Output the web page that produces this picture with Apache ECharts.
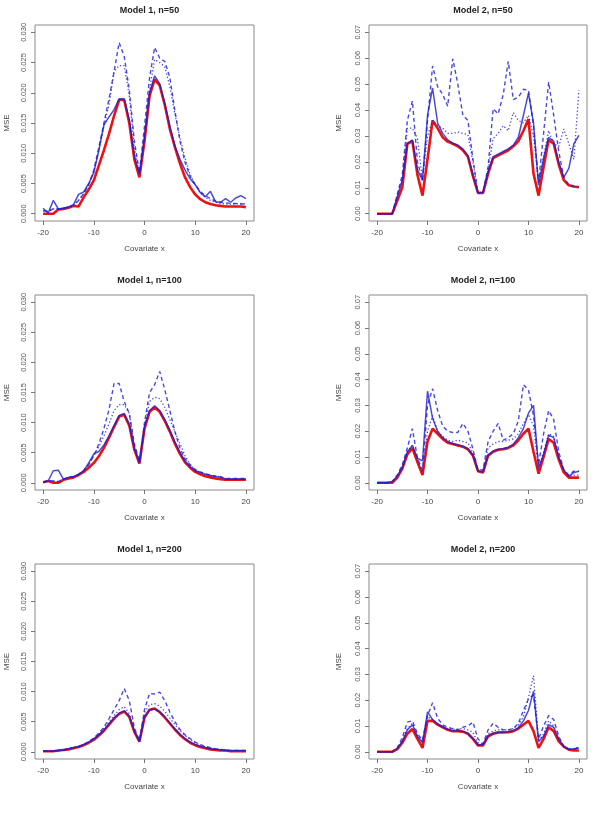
<!DOCTYPE html>
<html>
<head>
<meta charset="utf-8">
<script src="https://cdn.jsdelivr.net/npm/echarts@6/dist/echarts.min.js"></script>
<style>
  html, body { margin: 0; padding: 0; background: #fff; }
  #main { width: 596px; height: 814px; }
</style>
</head>
<body>
<div id="main"></div>
<script>
// covariate grid
var xs = [-20,-19,-18,-17,-16,-15,-14,-13,-12,-11,
          -10,-9,-8,-7,-6,-5,-4,-3,-2,-1,
          0,1,2,3,4,5,6,7,8,9,
          10,11,12,13,14,15,16,17,18,19,20];

var xTicks = [-20, -10, 0, 10, 20];
var yTicksM1 = [0, 0.005, 0.010, 0.015, 0.020, 0.025, 0.030];
var yTicksM2 = [0, 0.01, 0.02, 0.03, 0.04, 0.05, 0.06, 0.07];

// ---- Model 1, n=50
var m1n50_red = [0,0,0,0.0007,0.0008,0.001,0.0013,0.0012,0.0027,0.004,
  0.0055,0.008,0.0105,0.0132,0.0162,0.0188,0.0188,0.015,0.009,0.006,
  0.012,0.0195,0.0222,0.0212,0.018,0.014,0.011,0.0083,0.006,0.0044,
  0.0032,0.0024,0.0019,0.0016,0.0014,0.0013,0.0012,0.0012,0.0012,0.0012,0.0011];
var m1n50_solid = [0.0009,0.0001,0.0022,0.0008,0.0009,0.0011,0.0015,0.0032,0.0036,0.005,
  0.0068,0.0105,0.0147,0.016,0.0172,0.019,0.019,0.0155,0.0095,0.0065,
  0.0125,0.02,0.0228,0.0215,0.0182,0.0145,0.0112,0.009,0.0072,0.0058,
  0.0048,0.0035,0.0028,0.0037,0.002,0.0019,0.0025,0.0019,0.0026,0.003,0.0025];
var m1n50_dash = [0.0005,0.0004,0.0008,0.0008,0.0009,0.0011,0.0014,0.0022,0.0033,0.0048,
  0.0072,0.011,0.015,0.019,0.0235,0.0283,0.026,0.0205,0.012,0.0068,
  0.0145,0.0225,0.0275,0.0257,0.0252,0.0225,0.017,0.012,0.0085,0.0062,
  0.0048,0.0037,0.003,0.0025,0.0021,0.0019,0.0018,0.0017,0.0017,0.0016,0.0016];
var m1n50_dot = [0.0005,0.0004,0.0008,0.0008,0.0009,0.0011,0.0014,0.0022,0.0033,0.0048,
  0.007,0.0105,0.0145,0.018,0.0235,0.0245,0.0245,0.0195,0.011,0.0066,
  0.013,0.0205,0.0255,0.025,0.0243,0.021,0.0165,0.0125,0.0092,0.0065,
  0.0048,0.0035,0.0027,0.0022,0.0019,0.0017,0.0016,0.0016,0.0016,0.0017,0.0016];

// ---- Model 2, n=50
var m2n50_red = [0,0,0,0,0.005,0.0102,0.027,0.028,0.015,0.007,
  0.021,0.036,0.033,0.0295,0.0278,0.027,0.026,0.0245,0.022,0.0145,
  0.008,0.008,0.0155,0.0215,0.0225,0.0235,0.0245,0.026,0.028,0.032,
  0.0365,0.0155,0.007,0.018,0.0285,0.027,0.019,0.013,0.011,0.0105,0.0102];
var m2n50_solid = [0,0,0,0,0.0065,0.013,0.027,0.0285,0.017,0.0128,
  0.038,0.0485,0.035,0.031,0.0285,0.0272,0.0265,0.025,0.0225,0.015,
  0.008,0.0082,0.016,0.022,0.023,0.024,0.025,0.0265,0.0295,0.038,
  0.0465,0.035,0.011,0.0215,0.0295,0.028,0.02,0.014,0.0175,0.027,0.0302];
var m2n50_dash = [0,0,0,0,0.0075,0.015,0.036,0.0435,0.02,0.013,
  0.036,0.057,0.049,0.046,0.0415,0.0598,0.05,0.038,0.036,0.021,
  0.008,0.0085,0.018,0.0405,0.0385,0.046,0.0588,0.044,0.045,0.048,
  0.0476,0.034,0.012,0.031,0.0508,0.038,0.024,0.014,0.011,0.0105,0.0102];
var m2n50_dot = [0,0,0,0,0.007,0.013,0.033,0.033,0.029,0.013,
  0.03,0.036,0.034,0.033,0.031,0.031,0.0315,0.031,0.0305,0.02,
  0.008,0.0085,0.017,0.029,0.031,0.034,0.032,0.039,0.036,0.035,
  0.038,0.03,0.012,0.022,0.032,0.027,0.026,0.0327,0.027,0.021,0.0476];

// ---- Model 1, n=100
var m1n100_red = [0.0001,0.0003,0,0,0.0005,0.0007,0.0009,0.0013,0.0018,0.0025,
  0.0033,0.0044,0.0058,0.0075,0.0093,0.011,0.0113,0.0095,0.0055,0.0032,
  0.009,0.0118,0.0125,0.0118,0.0103,0.0085,0.0065,0.0048,0.0034,0.0025,
  0.0018,0.0014,0.0011,0.0009,0.0007,0.0006,0.0005,0.0005,0.0005,0.0005,0.0005];
var m1n100_solid = [0.0001,0.0003,0.002,0.0021,0.0006,0.0009,0.001,0.0014,0.002,0.0033,
  0.0048,0.0052,0.0063,0.0078,0.0095,0.0112,0.0115,0.0097,0.0057,0.0033,
  0.0092,0.012,0.0128,0.012,0.0105,0.0087,0.0068,0.005,0.0036,0.0027,
  0.002,0.0017,0.0014,0.0012,0.001,0.0009,0.0006,0.0006,0.0006,0.0006,0.0006];
var m1n100_dash = [0.0001,0.0003,0.0003,0.0002,0.0006,0.0009,0.001,0.0014,0.002,0.003,
  0.0045,0.0065,0.009,0.0122,0.0165,0.0165,0.0135,0.0115,0.0065,0.0035,
  0.01,0.015,0.0163,0.0185,0.0155,0.012,0.0085,0.0057,0.004,0.003,
  0.0022,0.0018,0.0015,0.0013,0.0011,0.001,0.0007,0.0007,0.0007,0.0007,0.0007];
var m1n100_dot = [0.0001,0.0003,0.0003,0.0002,0.0006,0.0009,0.001,0.0014,0.002,0.003,
  0.0045,0.006,0.0078,0.0098,0.012,0.013,0.013,0.0115,0.006,0.0035,
  0.0095,0.0135,0.0142,0.014,0.0125,0.0105,0.0085,0.0065,0.0045,0.003,
  0.0022,0.0017,0.0014,0.0012,0.0011,0.001,0.0007,0.0007,0.0007,0.0007,0.0007];

// ---- Model 2, n=100
var m2n100_red = [0,0,0,0,0.002,0.0055,0.011,0.0135,0.008,0.003,
  0.016,0.021,0.019,0.017,0.0155,0.015,0.0145,0.014,0.013,0.0105,
  0.0045,0.004,0.0105,0.012,0.0128,0.013,0.0135,0.0145,0.0165,0.019,
  0.021,0.012,0.0035,0.01,0.017,0.0155,0.009,0.004,0.002,0.002,0.002];
var m2n100_solid = [0,0,0,0.0005,0.0025,0.006,0.012,0.0145,0.0095,0.0085,
  0.0355,0.025,0.02,0.0175,0.016,0.0152,0.0147,0.0142,0.0132,0.0108,
  0.0046,0.0042,0.0108,0.0123,0.013,0.0133,0.0138,0.015,0.0175,0.021,
  0.027,0.03,0.006,0.011,0.0185,0.0175,0.01,0.005,0.0025,0.004,0.0045];
var m2n100_dash = [0,0,0,0.0005,0.003,0.007,0.0135,0.021,0.0095,0.005,
  0.03,0.0365,0.028,0.022,0.02,0.0195,0.0195,0.023,0.02,0.013,
  0.005,0.005,0.016,0.02,0.023,0.0165,0.0175,0.019,0.024,0.038,
  0.036,0.026,0.007,0.019,0.028,0.0245,0.012,0.005,0.003,0.0045,0.0045];
var m2n100_dot = [0,0,0,0.0005,0.0025,0.006,0.012,0.0145,0.009,0.004,
  0.02,0.026,0.02,0.018,0.0165,0.016,0.0165,0.016,0.0155,0.0115,
  0.0045,0.0045,0.0135,0.015,0.016,0.016,0.0165,0.017,0.019,0.023,
  0.0265,0.022,0.005,0.012,0.019,0.018,0.01,0.005,0.0025,0.003,0.003];

// ---- Model 1, n=200
var m1n200_red = [0.0001,0.0001,0.0001,0.0002,0.0003,0.0004,0.0006,0.0008,0.0011,0.0015,
  0.002,0.0027,0.0035,0.0045,0.0055,0.0063,0.0067,0.0058,0.0033,0.0017,
  0.0057,0.007,0.0072,0.0066,0.0057,0.0047,0.0037,0.0028,0.0021,0.0015,
  0.0011,0.0008,0.0006,0.0004,0.0003,0.0002,0.0002,0.0001,0.0001,0.0001,0.0001];
var m1n200_solid = [0.0001,0.0001,0.0001,0.0002,0.0003,0.0005,0.0007,0.0009,0.0012,0.0016,
  0.0021,0.0028,0.0036,0.0046,0.0056,0.0064,0.0068,0.0059,0.0034,0.0017,
  0.0058,0.0069,0.0071,0.0066,0.0058,0.0048,0.0038,0.0029,0.0022,0.0016,
  0.0012,0.0009,0.0007,0.0005,0.0004,0.0003,0.0002,0.0002,0.0002,0.0002,0.0002];
var m1n200_dash = [0.0001,0.0001,0.0001,0.0002,0.0003,0.0005,0.0007,0.0009,0.0012,0.0017,
  0.0023,0.0031,0.0041,0.0055,0.007,0.0085,0.0105,0.0085,0.004,0.0018,
  0.007,0.0097,0.0096,0.0099,0.0085,0.0066,0.005,0.0037,0.0028,0.0022,
  0.0016,0.0012,0.0009,0.0007,0.0005,0.0004,0.0003,0.0002,0.0002,0.0002,0.0002];
var m1n200_dot = [0.0001,0.0001,0.0001,0.0002,0.0003,0.0005,0.0007,0.0009,0.0012,0.0016,
  0.0022,0.003,0.0039,0.005,0.006,0.007,0.0075,0.0063,0.0035,0.0018,
  0.0065,0.0078,0.008,0.0076,0.0067,0.0056,0.0045,0.0035,0.0027,0.002,
  0.0015,0.0011,0.0008,0.0006,0.0005,0.0004,0.0003,0.0002,0.0002,0.0002,0.0002];

// ---- Model 2, n=200
var m2n200_red = [0,0,0,0,0.001,0.0035,0.007,0.0088,0.005,0.0015,
  0.012,0.012,0.0105,0.0095,0.0085,0.008,0.008,0.0078,0.007,0.005,
  0.0025,0.0025,0.006,0.007,0.0075,0.0075,0.0076,0.008,0.009,0.0105,
  0.012,0.008,0.0015,0.005,0.0095,0.008,0.004,0.002,0.0008,0.0005,0.0005];
var m2n200_solid = [0,0,0,0,0.0012,0.004,0.0085,0.0105,0.006,0.0035,
  0.0155,0.0125,0.0108,0.0097,0.0087,0.0082,0.0081,0.0079,0.0072,0.0052,
  0.0027,0.0027,0.0062,0.0072,0.0076,0.0077,0.0078,0.0082,0.0093,0.012,
  0.016,0.0235,0.004,0.006,0.0105,0.0095,0.005,0.002,0.001,0.0012,0.0015];
var m2n200_dash = [0,0,0,0,0.0015,0.0055,0.0115,0.012,0.007,0.0045,
  0.014,0.019,0.013,0.0105,0.0095,0.009,0.0085,0.0095,0.01,0.0115,
  0.005,0.003,0.0085,0.011,0.0095,0.0085,0.0085,0.009,0.011,0.016,
  0.0205,0.022,0.005,0.01,0.014,0.0125,0.006,0.002,0.001,0.001,0.0015];
var m2n200_dot = [0,0,0,0,0.0013,0.0045,0.009,0.011,0.006,0.004,
  0.0135,0.0125,0.011,0.0095,0.009,0.0088,0.0088,0.009,0.0085,0.0075,
  0.0035,0.003,0.007,0.008,0.0085,0.0085,0.0085,0.009,0.0105,0.0135,
  0.021,0.0295,0.004,0.007,0.012,0.01,0.005,0.002,0.0008,0.001,0.002];

var panels = [
  { title: 'Model 1, n=50',  m: 1, red: m1n50_red,  solid: m1n50_solid,  dash: m1n50_dash,  dot: m1n50_dot },
  { title: 'Model 2, n=50',  m: 2, red: m2n50_red,  solid: m2n50_solid,  dash: m2n50_dash,  dot: m2n50_dot },
  { title: 'Model 1, n=100', m: 1, red: m1n100_red, solid: m1n100_solid, dash: m1n100_dash, dot: m1n100_dot },
  { title: 'Model 2, n=100', m: 2, red: m2n100_red, solid: m2n100_solid, dash: m2n100_dash, dot: m2n100_dot },
  { title: 'Model 1, n=200', m: 1, red: m1n200_red, solid: m1n200_solid, dash: m1n200_dash, dot: m1n200_dot },
  { title: 'Model 2, n=200', m: 2, red: m2n200_red, solid: m2n200_solid, dash: m2n200_dash, dot: m2n200_dot }
];

var FONT = 'Liberation Sans, Arial, sans-serif';
var colLeft = [35, 369], colWidth = [219, 218];
var rowTop = [25, 295, 564], rowHeight = [196, 195, 195];

function pairs(ys) {
  return xs.map(function (x, i) { return [x, ys[i]]; });
}

var grids = [], xAxes = [], yAxes = [], titles = [], series = [];

panels.forEach(function (p, k) {
  var col = k % 2, row = Math.floor(k / 2);
  grids.push({
    left: colLeft[col], top: rowTop[row], width: colWidth[col], height: rowHeight[row],
    show: true, borderColor: '#8a8a8a', borderWidth: 1, backgroundColor: 'transparent'
  });
  titles.push({
    text: p.title, left: colLeft[col] + colWidth[col] / 2, top: rowTop[row] - 24, textAlign: 'center',
    textStyle: { fontFamily: FONT, fontSize: 9, fontWeight: 'bold', color: '#222' }
  });
  xAxes.push({
    gridIndex: k, type: 'value', min: -21.6, max: 21.6, position: 'bottom',
    name: 'Covariate x', nameLocation: 'middle', nameGap: 24,
    nameTextStyle: { fontFamily: FONT, fontSize: 8, color: '#444' },
    axisLine: { show: false, onZero: false },
    axisTick: { show: true, customValues: xTicks, length: 4, lineStyle: { color: '#777' } },
    axisLabel: { customValues: xTicks, fontFamily: FONT, fontSize: 8, color: '#444', margin: 8 },
    splitLine: { show: false }
  });
  var yt = p.m === 1 ? yTicksM1 : yTicksM2;
  yAxes.push({
    gridIndex: k, type: 'value', position: 'left',
    min: p.m === 1 ? -0.0012 : -0.0028, max: p.m === 1 ? 0.0312 : 0.0728,
    name: 'MSE', nameLocation: 'middle', nameGap: p.m === 1 ? 24 : 26,
    nameTextStyle: { fontFamily: FONT, fontSize: 8, color: '#444' },
    axisLine: { show: false, onZero: false },
    axisTick: { show: true, customValues: yt, length: 4, lineStyle: { color: '#777' } },
    axisLabel: {
      customValues: yt, rotate: 90, fontFamily: FONT, fontSize: 7.5, color: '#555', margin: 7,
      formatter: function (v) { return v.toFixed(p.m === 1 ? 3 : 2); }
    },
    splitLine: { show: false }
  });
  var common = { type: 'line', xAxisIndex: k, yAxisIndex: k, showSymbol: false, symbol: 'none', animation: false, silent: true };
  series.push(Object.assign({}, common, { data: pairs(p.red), lineStyle: { color: '#ee1111', width: 2.6 }, z: 2 }));
  series.push(Object.assign({}, common, { data: pairs(p.dot), lineStyle: { color: 'rgba(40,40,220,0.85)', width: 1.3, type: [1.3, 2.2] }, z: 3 }));
  series.push(Object.assign({}, common, { data: pairs(p.dash), lineStyle: { color: 'rgba(40,40,220,0.85)', width: 1.4, type: [4, 3] }, z: 3 }));
  series.push(Object.assign({}, common, { data: pairs(p.solid), lineStyle: { color: 'rgba(30,30,205,0.8)', width: 1.5 }, z: 4 }));
});

var chart = echarts.init(document.getElementById('main'), null, { renderer: 'canvas' });
chart.setOption({
  backgroundColor: '#ffffff',
  animation: false,
  title: titles,
  grid: grids,
  xAxis: xAxes,
  yAxis: yAxes,
  series: series
});
</script>
</body>
</html>
